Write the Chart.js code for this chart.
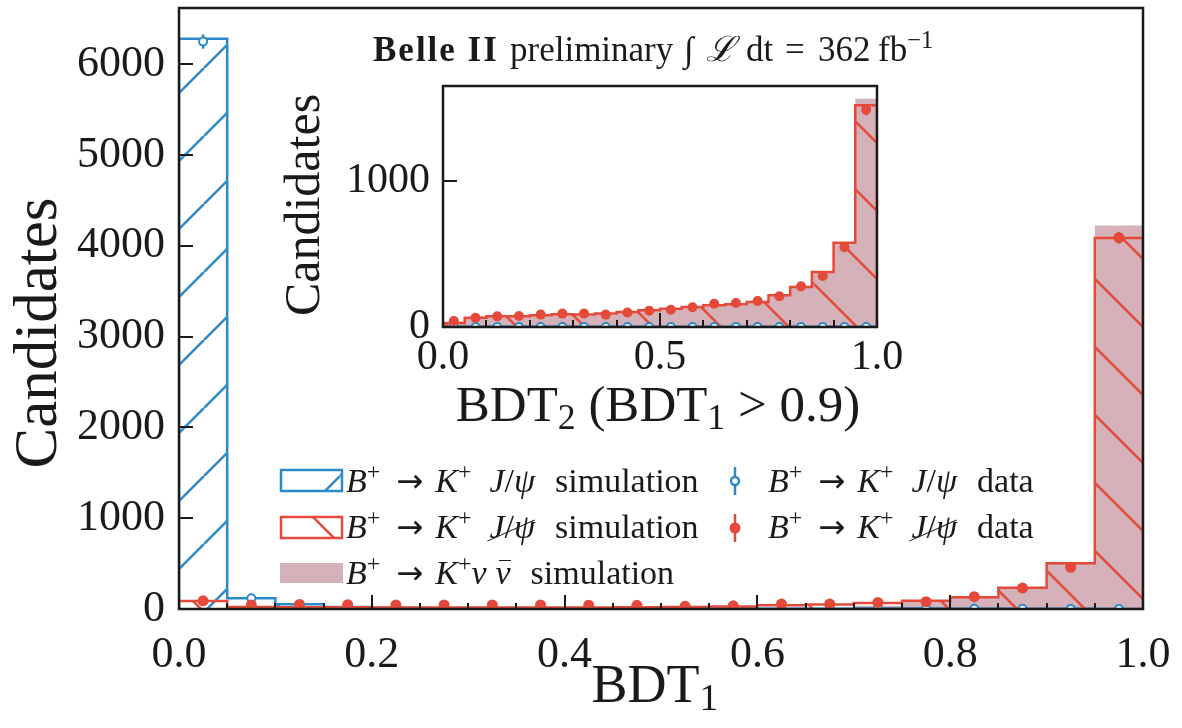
<!DOCTYPE html>
<html>
<head>
<meta charset="utf-8">
<script src="https://cdn.jsdelivr.net/npm/chart.js@4.4.1/dist/chart.umd.min.js"></script>
<style>
  body { margin: 0; background: #fff; }
  #wrap { position: relative; width: 1182px; height: 728px; font-family: "Liberation Serif", serif; color: #1a1a1a; }
  canvas { position: absolute; }
  #main { left: 0; top: 0; }
  #inset { left: 270px; top: 80px; }
  .txt { position: absolute; white-space: nowrap; font-size: 34px; line-height: 40px; }
  .tt { position: absolute; white-space: nowrap; font-size: 35px; line-height: 40px; top: 30px; }
  sup { font-size: 0.7em; line-height: 0; vertical-align: 0.55em; }
  .a { margin-left: 16px; font-family: "DejaVu Sans", sans-serif; font-size: 0.95em; }
  .k { margin-left: 12px; }
  .j { margin-left: 18px; }
  .w { margin-left: 20px; }
  .n { margin-left: 9px; }
  .not { position: relative; display: inline-block; }
  .not::after { content: ""; position: absolute; left: -10%; right: -4%; top: 58%; border-top: 1.6px solid #1a1a1a; transform: rotate(-24deg); }
  .bar { position: relative; display: inline-block; }
  .bar::before { content: ""; position: absolute; left: 22%; right: 0; top: 0.22em; border-top: 1.8px solid #1a1a1a; }
</style>
</head>
<body>
<div id="wrap">
  <canvas id="main" width="1182" height="728"></canvas>
  <canvas id="inset" width="680" height="360"></canvas>
  <div class="tt" style="left:373px; letter-spacing:2px;"><b>Belle II</b></div>
  <div class="tt" style="left:510px;">preliminary</div>
  <div class="tt" style="left:684px;">∫</div>
  <div class="tt" style="left:706px;"><i>ℒ</i></div>
  <div class="tt" style="left:746px;">dt</div>
  <div class="tt" style="left:785px;">=</div>
  <div class="tt" style="left:818px;">362</div>
  <div class="tt" style="left:878px;">fb<sup>−1</sup></div>
  <div class="txt" style="left:346px; top:461px;"><i>B</i><sup>+</sup><span class="a">→</span><i class="k">K</i><sup>+</sup><i class="j">J</i>/<i>ψ</i><span class="w">simulation</span></div>
  <div class="txt" style="left:346px; top:507px;"><i>B</i><sup>+</sup><span class="a">→</span><i class="k">K</i><sup>+</sup><span class="not j"><i>J</i>/<i>ψ</i></span><span class="w">simulation</span></div>
  <div class="txt" style="left:346px; top:553px;"><i>B</i><sup>+</sup><span class="a">→</span><i class="k">K</i><sup>+</sup><i>ν</i><span class="bar n"><i>ν</i></span><span class="w">simulation</span></div>
  <div class="txt" style="left:768px; top:461px;"><i>B</i><sup>+</sup><span class="a">→</span><i class="k">K</i><sup>+</sup><i class="j">J</i>/<i>ψ</i><span class="w">data</span></div>
  <div class="txt" style="left:768px; top:507px;"><i>B</i><sup>+</sup><span class="a">→</span><i class="k">K</i><sup>+</sup><span class="not j"><i>J</i>/<i>ψ</i></span><span class="w">data</span></div>
</div>
<script>
// bins (BDT score, width 0.05)
const binEdges = [0, 0.05, 0.1, 0.15, 0.2, 0.25, 0.3, 0.35, 0.4, 0.45, 0.5, 0.55, 0.6, 0.65, 0.7, 0.75, 0.8, 0.85, 0.9, 0.95, 1.0]
const binCenters = [0.025, 0.075, 0.125, 0.175, 0.225, 0.275, 0.325, 0.375, 0.425, 0.475, 0.525, 0.575, 0.625, 0.675, 0.725, 0.775, 0.825, 0.875, 0.925, 0.975]

// main plot: BDT1
const mainBlueSim = [6280, 118, 52, 22, 10, 8, 6, 5, 5, 4, 4, 4, 4, 4, 5, 5, 4, 3, 2, 1]
const mainRedSim = [88, 22, 20, 18, 17, 16, 16, 16, 17, 19, 22, 28, 40, 50, 65, 92, 129, 235, 504, 4087]
const mainSignalSim = [2, 1, 1, 1, 1, 1, 1, 1, 2, 2, 3, 5, 8, 10, 35, 85, 125, 230, 495, 4223]
const mainBlueData = [6250, 118, 40, 18, 10, 7, 5, 4, 4, 4, 3, 3, 3, 4, 4, 4, 3, 2, 1, 0]
const mainBlueErr = [79, 11, 6, 4, 3, 3, 2, 2, 2, 2, 2, 2, 2, 2, 2, 2, 2, 1, 1, 0]
const mainRedData = [90, 45, 50, 48, 45, 45, 44, 44, 42, 40, 30, 35, 55, 55, 72, 81, 136, 231, 460, 4090]
const mainRedErr = [9, 7, 7, 7, 7, 7, 7, 7, 6, 6, 5, 6, 7, 7, 8, 9, 12, 15, 21, 64]

// inset: BDT2 for BDT1 > 0.9
const insetBlueSim = [2, 1, 1, 1, 1, 1, 1, 1, 1, 1, 1, 1, 1, 1, 1, 1, 1, 1, 1, 1]
const insetRedSim = [27, 64, 73, 73, 80, 87, 85, 92, 103, 115, 126, 137, 149, 156, 172, 218, 275, 378, 579, 1522]
const insetSignalSim = [25, 60, 70, 70, 77, 83, 82, 88, 99, 110, 121, 132, 143, 150, 166, 212, 268, 370, 572, 1567]
const insetBlueData = [0, 0, 0, 0, 0, 0, 0, 0, 0, 0, 0, 0, 0, 0, 0, 0, 0, 0, 0, 0]
const insetBlueErr = [0, 0, 0, 0, 0, 0, 0, 0, 0, 0, 0, 0, 0, 0, 0, 0, 0, 0, 0, 0]
const insetRedData = [41, 64, 73, 76, 85, 92, 92, 85, 99, 112, 119, 135, 160, 165, 179, 211, 279, 350, 547, 1492]
const insetRedErr = [6, 8, 9, 9, 9, 10, 10, 9, 10, 11, 11, 12, 13, 13, 13, 15, 17, 19, 23, 39]

// ticks
const mainXTicks = [0, 0.2, 0.4, 0.6, 0.8, 1.0]
const mainYTicks = [0, 1000, 2000, 3000, 4000, 5000, 6000]
const insetXTicks = [0, 0.5, 1.0]
const insetYTicks = [0, 1000]

const BLUE = "#2c8ac8"
const RED = "#e5493a"
const PINK = "#d5b1b9"
const INK = "#1a1a1a"
const FONT = "'Liberation Serif', serif"

Chart.defaults.font.family = FONT
Chart.defaults.color = INK

function hatch(color, dir) {
  const s = 68
  const c = document.createElement("canvas")
  c.width = s
  c.height = s
  const g = c.getContext("2d")
  g.strokeStyle = color
  g.lineWidth = 2.5
  for (const k of [-s, 0, s]) {
    g.beginPath()
    if (dir === "/") { g.moveTo(k, s); g.lineTo(k + s, 0) }
    else { g.moveTo(k, 0); g.lineTo(k + s, s) }
    g.stroke()
  }
  return g.createPattern(c, "repeat")
}

// outline of a step histogram through the bin edges
function steps(values) {
  const pts = [{ x: binEdges[0], y: 0 }]
  values.forEach((v, i) => pts.push({ x: binEdges[i], y: v }))
  pts.push({ x: binEdges[binEdges.length - 1], y: values[values.length - 1] })
  pts.push({ x: binEdges[binEdges.length - 1], y: 0 })
  return pts
}
const points = (values) => binCenters.map((x, i) => ({ x, y: values[i] }))

const blueHatch = hatch(BLUE, "/")
const redHatch = hatch(RED, "\\")

// error bars under the data markers
const errorBars = {
  id: "errorBars",
  beforeDatasetDraw(chart, args) {
    const ds = chart.data.datasets[args.index]
    if (!ds.errors) return
    const { ctx, chartArea: a } = chart
    const y = chart.scales.y
    ctx.save()
    ctx.beginPath()
    ctx.rect(a.left, a.top, a.right - a.left, a.bottom - a.top)
    ctx.clip()
    ctx.strokeStyle = ds.pointBorderColor
    ctx.lineWidth = 2.5
    args.meta.data.forEach((pt, i) => {
      const v = ds.data[i].y, e = ds.errors[i]
      if (!e) return
      ctx.beginPath()
      ctx.moveTo(pt.x, y.getPixelForValue(v - e))
      ctx.lineTo(pt.x, y.getPixelForValue(v + e))
      ctx.stroke()
    })
    ctx.restore()
  },
}

// matplotlib-like frame with inward ticks
const frameTicks = {
  id: "frameTicks",
  afterDraw(chart, args, o) {
    const { ctx, chartArea: a } = chart
    const { x, y } = chart.scales
    ctx.save()
    ctx.strokeStyle = INK
    ctx.lineWidth = 2
    ctx.beginPath()
    for (let v = o.xMinorStep; v < 1; v += o.xMinorStep) {
      const px = Math.round(x.getPixelForValue(v))
      ctx.moveTo(px, a.bottom)
      ctx.lineTo(px, a.bottom - o.minorLen)
    }
    for (const v of o.xMajor) {
      const px = Math.round(x.getPixelForValue(v))
      ctx.moveTo(px, a.bottom)
      ctx.lineTo(px, a.bottom - o.majorLen)
    }
    for (const v of o.yMajor) {
      const py = Math.round(y.getPixelForValue(v))
      ctx.moveTo(a.left, py)
      ctx.lineTo(a.left + o.majorLen, py)
    }
    ctx.stroke()
    ctx.lineWidth = 2.5
    ctx.strokeRect(a.left, a.top, a.right - a.left, a.bottom - a.top)
    ctx.restore()
  },
}

// axis titles with real subscripts
const axisTitles = {
  id: "axisTitles",
  afterDraw(chart, args, o) {
    const ctx = chart.ctx
    for (const t of o.items) {
      ctx.save()
      ctx.translate(t.x, t.y)
      if (t.rotate) ctx.rotate(-Math.PI / 2)
      ctx.fillStyle = INK
      ctx.textBaseline = "alphabetic"
      const sizes = t.parts.map((p) => (p.sub ? t.size * 0.7 : t.size))
      const widths = t.parts.map((p, i) => {
        ctx.font = `${sizes[i]}px ${FONT}`
        return ctx.measureText(p.text).width
      })
      let cx = -widths.reduce((s, w) => s + w, 0) / 2
      t.parts.forEach((p, i) => {
        ctx.font = `${sizes[i]}px ${FONT}`
        ctx.fillText(p.text, cx, t.size * 0.33 + (p.sub ? t.size * 0.16 : 0))
        cx += widths[i]
      })
      ctx.restore()
    }
  },
}

// legend handles (text is HTML)
const legendHandles = {
  id: "legendHandles",
  afterDraw(chart) {
    const ctx = chart.ctx
    ctx.save()
    ctx.lineWidth = 2.5
    ctx.fillStyle = blueHatch
    ctx.fillRect(281, 470, 61, 21)
    ctx.strokeStyle = BLUE
    ctx.strokeRect(281, 470, 61, 21)
    ctx.fillStyle = redHatch
    ctx.fillRect(281, 517, 61, 21)
    ctx.strokeStyle = RED
    ctx.strokeRect(281, 517, 61, 21)
    ctx.fillStyle = PINK
    ctx.fillRect(280, 563, 63, 20)
    ctx.strokeStyle = BLUE
    ctx.beginPath(); ctx.moveTo(735, 467); ctx.lineTo(735, 495); ctx.stroke()
    ctx.fillStyle = "#fff"
    ctx.beginPath(); ctx.arc(735, 481, 4, 0, Math.PI * 2); ctx.fill(); ctx.stroke()
    ctx.strokeStyle = RED
    ctx.beginPath(); ctx.moveTo(735, 514); ctx.lineTo(735, 542); ctx.stroke()
    ctx.fillStyle = RED
    ctx.beginPath(); ctx.arc(735, 528, 5.5, 0, Math.PI * 2); ctx.fill()
    ctx.restore()
  },
}

function histDatasets(blueSim, redSim, signalSim, blueData, blueErr, redData, redErr, dot) {
  return [
    { data: points(redData), errors: redErr, showLine: false, pointRadius: dot, pointHoverRadius: dot,
      pointBackgroundColor: RED, pointBorderColor: RED, pointBorderWidth: 0 },
    { data: points(blueData), errors: blueErr, showLine: false, pointRadius: 4, pointHoverRadius: 4,
      pointBackgroundColor: "#fff", pointBorderColor: BLUE, pointBorderWidth: 2 },
    { data: steps(redSim), stepped: true, borderColor: RED, borderWidth: 2.5, pointRadius: 0,
      fill: "origin", backgroundColor: redHatch },
    { data: steps(blueSim), stepped: true, borderColor: BLUE, borderWidth: 2.5, pointRadius: 0,
      fill: "origin", backgroundColor: blueHatch },
    { data: steps(signalSim), stepped: true, borderWidth: 0, borderColor: "rgba(0,0,0,0)", pointRadius: 0,
      fill: "origin", backgroundColor: PINK },
  ]
}

function axisOptions(c) {
  return {
    x: {
      type: "linear", min: 0, max: 1,
      afterBuildTicks: (s) => { s.ticks = c.xTicks.map((v) => ({ value: v })) },
      afterFit: (s) => { s.height = c.xHeight; s.paddingLeft = 0; s.paddingRight = 0 },
      ticks: { callback: (v) => v.toFixed(1), font: { size: c.tickSize }, padding: c.xTickPad, maxRotation: 0, autoSkip: false },
      grid: { display: false, drawTicks: false },
      border: { display: false },
    },
    y: {
      min: 0, max: c.yMax,
      afterBuildTicks: (s) => { s.ticks = c.yTicks.map((v) => ({ value: v })) },
      afterFit: (s) => { s.width = c.yWidth; s.paddingTop = 0; s.paddingBottom = 0 },
      ticks: { callback: (v) => String(v), font: { size: c.tickSize }, padding: c.yTickPad },
      grid: { display: false, drawTicks: false },
      border: { display: false },
    },
  }
}

new Chart(document.getElementById("main"), {
  type: "line",
  data: { datasets: histDatasets(mainBlueSim, mainRedSim, mainSignalSim, mainBlueData, mainBlueErr, mainRedData, mainRedErr, 5.5) },
  options: {
    responsive: false,
    animation: false,
    layout: { padding: { left: 0, right: 39, top: 8, bottom: 0 } },
    plugins: {
      legend: { display: false },
      tooltip: { enabled: false },
      frameTicks: { xMajor: mainXTicks, xMinorStep: 0.05, yMajor: mainYTicks, majorLen: 14, minorLen: 6 },
      axisTitles: { items: [
        { x: 655, y: 684, size: 54, parts: [{ text: "BDT" }, { text: "1", sub: true }] },
        { x: 36, y: 333, size: 61, rotate: true, parts: [{ text: "Candidates" }] },
      ] },
    },
    scales: axisOptions({
      xTicks: mainXTicks, yTicks: mainYTicks, yMax: 6620, xHeight: 119, yWidth: 179,
      tickSize: 44, xTickPad: 20, yTickPad: 14,
    }),
  },
  plugins: [errorBars, frameTicks, axisTitles, legendHandles],
})

new Chart(document.getElementById("inset"), {
  type: "line",
  data: { datasets: histDatasets(insetBlueSim, insetRedSim, insetSignalSim, insetBlueData, insetBlueErr, insetRedData, insetRedErr, 5) },
  options: {
    responsive: false,
    animation: false,
    layout: { padding: { left: 0, right: 73, top: 6, bottom: 0 } },
    plugins: {
      legend: { display: false },
      tooltip: { enabled: false },
      frameTicks: { xMajor: insetXTicks, xMinorStep: 0.1, yMajor: insetYTicks, majorLen: 14, minorLen: 7 },
      axisTitles: { items: [
        { x: 388, y: 324, size: 51, parts: [{ text: "BDT" }, { text: "2", sub: true }, { text: " (BDT" }, { text: "1", sub: true }, { text: " > 0.9)" }] },
        { x: 32, y: 125, size: 50, rotate: true, parts: [{ text: "Candidates" }] },
      ] },
    },
    scales: axisOptions({
      xTicks: insetXTicks, yTicks: insetYTicks, yMax: 1654, xHeight: 113, yWidth: 173,
      tickSize: 42, xTickPad: 6, yTickPad: 13,
    }),
  },
  plugins: [errorBars, frameTicks, axisTitles],
})
</script>
</body>
</html>
